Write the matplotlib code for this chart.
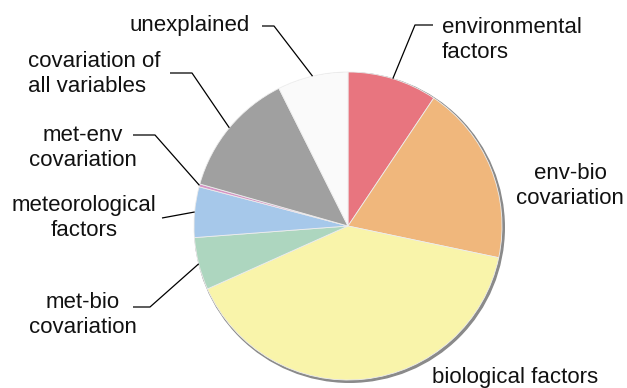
import numpy as np
import matplotlib.pyplot as plt
from matplotlib.patches import Circle

plt.rcParams['font.family'] = ['Liberation Sans', 'DejaVu Sans']

# Share of explained variance (percent), clockwise from 12 o'clock
labels = ['environmental\nfactors', 'env-bio\ncovariation', 'biological factors',
          'met-bio\ncovariation', 'meteorological\nfactors', 'met-env\ncovariation',
          'covariation of\nall variables', 'unexplained']
shares = [9.4, 18.9, 40.0, 5.5, 5.3, 0.3, 13.2, 7.4]
colors = ['#E8757F', '#F0B77C', '#F9F4AA', '#ADD6BF', '#A6C8EA', '#D694C4',
          '#A0A0A0', '#FAFAFA']

W, H = 627, 388
fig = plt.figure(figsize=(W / 100, H / 100), dpi=100)
ax = fig.add_axes([0, 0, 1, 1])

cx, cy, r = 348, 226, 154

# soft drop shadow behind the pie
ax.add_patch(Circle((cx + 1.5, cy + 1.5), r + 0.8, color='#8a8a8a', zorder=0))

# y axis runs downward, so counterclock=True reads clockwise on screen
wedges, _ = ax.pie(shares, colors=colors, startangle=-90, counterclock=True,
                   center=(cx, cy), radius=r,
                   wedgeprops=dict(edgecolor='#eeeeee', linewidth=0.6))

ax.set_xlim(0, W)
ax.set_ylim(H, 0)
ax.set_aspect('auto')
ax.axis('off')


def edge_point(w):
    mid = np.deg2rad((w.theta1 + w.theta2) / 2)
    return cx + r * np.cos(mid), cy + r * np.sin(mid)


fs = 16
# label placement: (x, y, ha, leader path start points ending at the wedge edge)
layout = [
    (442, 40, 'left', [(433, 25), (415, 25)]),
    (570, 186, 'center', None),
    (432, 377, 'left', None),
    (83, 315, 'center', [(133, 307), (150, 307)]),
    (84, 218, 'center', [(162, 218)]),
    (83, 148, 'center', [(133, 135), (155, 135)]),
    (28, 74, 'left', [(170, 73), (192, 73)]),
    (250, 26, 'right', [(262, 26), (274, 26)]),
]

for w, lab, (tx, ty, ha, path) in zip(wedges, labels, layout):
    ax.text(tx, ty, lab, ha=ha, va='center', multialignment=ha,
            fontsize=fs, color='#111111', linespacing=1.3)
    if path:
        ex, ey = edge_point(w)
        xs = [p[0] for p in path] + [ex]
        ys = [p[1] for p in path] + [ey]
        ax.plot(xs, ys, color='black', lw=0.9, solid_capstyle='butt')

fig.savefig('out.png', dpi=100)
